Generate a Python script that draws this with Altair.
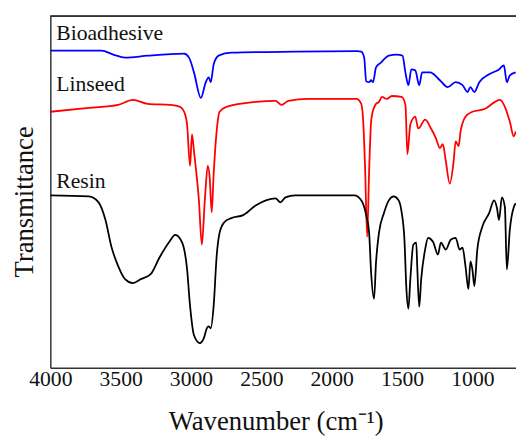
import altair as alt
import pandas as pd

# Wavenumbers (cm-1) and transmittance (arbitrary, offset units)
bio_wn = [4000, 3636, 3552, 3469, 3308, 3049, 3014, 2979, 2930, 2895, 2874, 2860, 2839, 2804,
          2713, 2259, 1818, 1790, 1769, 1755, 1734, 1720, 1706, 1685, 1650, 1594, 1538, 1497,
          1476, 1455, 1434, 1406, 1378, 1357, 1301, 1231, 1175, 1119, 1070, 1035, 1014, 986,
          951, 881, 811, 776, 755, 734, 692]
bio_t = [322, 322, 318, 315, 317, 319, 315, 300, 274, 290, 295, 290, 308, 317,
         320, 321, 321.5, 321, 315, 291, 290, 292, 290, 305, 310, 317, 318, 317,
         300, 287, 303, 302, 287, 300, 300, 292, 285, 290, 287, 280, 285, 280,
         290, 298, 303, 307, 290, 297, 300]

lin_wn = [4000, 3727, 3517, 3413, 3308, 3147, 3077, 3049, 3028, 3007, 2993, 2979, 2944, 2923,
          2902, 2881, 2867, 2853, 2839, 2818, 2797, 2748, 2538, 2399, 2357, 2308, 2168, 1825,
          1790, 1776, 1762, 1748, 1734, 1720, 1713, 1685, 1664, 1643, 1608, 1573, 1503, 1476,
          1462, 1441, 1406, 1385, 1336, 1294, 1259, 1231, 1210, 1189, 1161, 1133, 1119, 1098,
          1084, 1049, 1000, 909, 839, 804, 769, 734, 706, 692]
lin_t = [260, 264, 267, 272, 268, 267, 265, 260, 247, 205, 237, 220, 170, 125,
         170, 205, 193, 158, 197, 240, 260, 265, 270, 271, 267, 271, 273, 273,
         268, 250, 200, 133, 200, 250, 257, 268, 270, 275, 273, 276, 275, 267,
         217, 247, 255, 243, 252, 243, 233, 223, 227, 210, 187, 210, 230, 225,
         240, 255, 260, 263, 270, 272, 265, 250, 235, 240]

res_wn = [4000, 3727, 3657, 3608, 3566, 3517, 3469, 3413, 3357, 3287, 3224, 3154, 3112, 3063,
          3028, 3007, 2979, 2937, 2909, 2888, 2874, 2860, 2839, 2818, 2797, 2762, 2713, 2629,
          2538, 2399, 2364, 2329, 2259, 1839, 1790, 1755, 1734, 1720, 1699, 1685, 1664, 1629,
          1594, 1559, 1524, 1503, 1483, 1469, 1455, 1441, 1420, 1399, 1392, 1378, 1364, 1336,
          1315, 1280, 1245, 1224, 1189, 1154, 1119, 1091, 1070, 1049, 1028, 1014, 1000, 986,
          965, 930, 881, 846, 825, 811, 790, 769, 755, 734, 706, 692]
res_t = [175, 174, 168, 150, 123, 103, 90, 86, 90, 95, 112, 128, 135, 127,
         100, 63, 33, 25, 30, 40, 42, 40, 63, 113, 137, 148, 152, 155,
         165, 172, 168, 173, 175, 175, 170, 155, 137, 97, 70, 107, 137, 157,
         170, 174, 170, 158, 130, 80, 60, 90, 125, 127, 103, 62, 90, 120,
         132, 128, 115, 127, 120, 130, 132, 120, 122, 103, 80, 108, 100, 83,
         120, 143, 157, 170, 162, 150, 173, 163, 100, 140, 163, 167]

series_names = ["Bioadhesive", "Linseed", "Resin"]
series_colors = ["#0000ff", "#ff0000", "#000000"]

label_wn = [3958, 3958, 3958]
label_t = [333, 281, 183]

x_ticks = [4000, 3500, 3000, 2500, 2000, 1500, 1000]

rows = []
for name, wn, t in [("Bioadhesive", bio_wn, bio_t), ("Linseed", lin_wn, lin_t), ("Resin", res_wn, res_t)]:
    for i, (w, v) in enumerate(zip(wn, t)):
        rows.append({"series": name, "wn": w, "t": v, "idx": i})
df = pd.DataFrame(rows)
labels_df = pd.DataFrame({"series": series_names, "wn": label_wn, "t": label_t})

FONT = "Liberation Serif"
W, H = 473, 357

xscale = alt.Scale(domain=[690, 4000], reverse=True, nice=False, zero=False)
yscale = alt.Scale(domain=[0, 357], nice=False, zero=False)

lines = alt.Chart(df).mark_line(strokeWidth=1.8, interpolate="monotone", clip=True).encode(
    x=alt.X("wn:Q", scale=xscale,
            axis=alt.Axis(values=x_ticks, format="d", title="Wavenumber (cm⁻¹)", ticks=False,
                          labelPadding=1, labelFontSize=22, labelFont=FONT, labelColor="#111",
                          labelFlush=False,
                          titleFont=FONT, titleFontSize=27, titleFontWeight="normal", titleColor="#111",
                          titleX=229, titleY=63, titleBaseline="alphabetic", titleAlign="center",
                          domainColor="#333", domainWidth=1.5, grid=False)),
    y=alt.Y("t:Q", scale=yscale,
            axis=alt.Axis(labels=False, ticks=False, title="Transmittance",
                          titleFont=FONT, titleFontSize=27, titleFontWeight="normal", titleColor="#111",
                          titleX=-18, titleY=188, titleAngle=-90, titleBaseline="alphabetic",
                          titleAlign="center", domainColor="#333", domainWidth=1.5, grid=False)),
    color=alt.Color("series:N", scale=alt.Scale(domain=series_names, range=series_colors), legend=None),
    detail="series:N",
    order="idx:Q",
)

texts = alt.Chart(labels_df).mark_text(align="left", baseline="alphabetic", font=FONT,
                                        fontSize=22, color="#111").encode(
    x=alt.X("wn:Q", scale=xscale),
    y=alt.Y("t:Q", scale=yscale),
    text="series:N",
)

top_rule = alt.Chart(labels_df).mark_rule(color="#333", strokeWidth=1.5).encode(
    x=alt.value(0), x2=alt.value(W + 10), y=alt.value(0)
)

chart = alt.layer(lines, texts, top_rule).properties(
    width=W, height=H,
    autosize=alt.AutoSizeParams(type="none"),
    padding={"left": 43, "top": 5, "right": 0, "bottom": 68},
).configure_view(stroke=None).configure_axis(grid=False)

chart.save("out.html", embed_options={"renderer": "svg", "actions": False})
